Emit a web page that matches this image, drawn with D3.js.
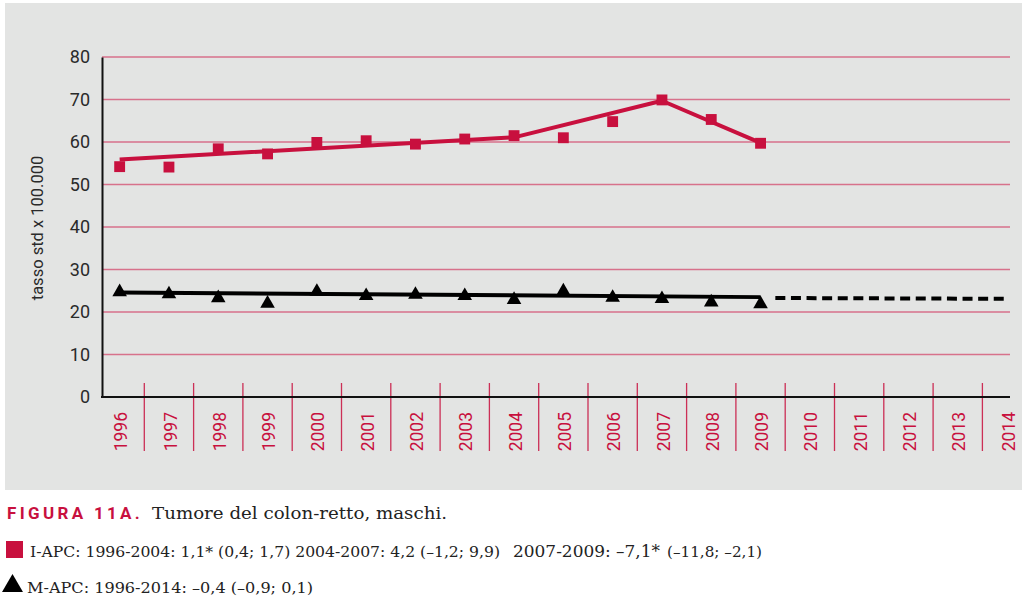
<!DOCTYPE html>
<html><head><meta charset="utf-8">
<script src="https://cdn.jsdelivr.net/npm/d3@7"></script>
<style>
html,body{margin:0;padding:0;background:#fff;}
svg{display:block;}
</style></head>
<body>
<svg id="chart" width="1024" height="598"></svg>
<script>
// ---- data ----
const years = [1996,1997,1998,1999,2000,2001,2002,2003,2004,2005,2006,2007,2008,2009,2010,2011,2012,2013,2014];
const obsYears = [1996,1997,1998,1999,2000,2001,2002,2003,2004,2005,2006,2007,2008,2009];
const incidence = [54.2,54.1,58.4,57.2,59.9,60.3,59.5,60.7,61.5,61.0,64.8,69.9,65.3,59.7];
const mortality = [24.7,24.2,23.3,22.0,24.8,23.8,24.1,23.8,22.9,24.9,23.4,23.1,22.3,21.9];
const trendIYears = [1996,2004,2007,2009];
const trendIValues = [55.9,61.1,69.7,59.8];
const trendMYears = [1996,2009];
const trendMValues = [24.6,23.5];
const projMYears = [2009.3,2014];
const projMValues = [23.3,23.1];
const yTicks = [0,10,20,30,40,50,60,70,80];
const yTitle = "tasso std x 100.000";
const captionLabel = "FIGURA 11A.";
const captionText = "Tumore del colon-retto, maschi.";
const legendI = ["I-APC: 1996-2004: 1,1* (0,4; 1,7)  2004-2007: 4,2 (–1,2; 9,9)", "2007-2009: –7,1*", "(–11,8; –2,1)"];
const legendM = "M-APC: 1996-2014: –0,4 (–0,9; 0,1)";

// ---- layout ----
const RED = "#c8103e", GRID = "#d7718b", PANEL = "#e3e4e3";
const plotLeft = 102, plotRight = 1010, plotTop = 57, plotBottom = 397;
const svg = d3.select("#chart");

svg.append("rect").attr("x",5).attr("y",3).attr("width",1017).attr("height",487).attr("fill",PANEL);

const x = d3.scaleBand().domain(years).range([95, 95 + 19*49.3]).padding(0);
const bw = x.bandwidth();
const cx = d => x(d) + bw/2;
const xLin = d3.scaleLinear().domain([1996,2014]).range([cx(1996), cx(2014)]);
const y = d3.scaleLinear().domain([0,80]).range([plotBottom, plotTop]);

// grid lines
svg.append("g").selectAll("line").data(yTicks.filter(t=>t>0)).join("line")
  .attr("x1",plotLeft).attr("x2",plotRight)
  .attr("y1",d=>y(d)).attr("y2",d=>y(d))
  .attr("stroke",GRID).attr("stroke-width",1.5);

// year separators
svg.append("g").selectAll("line").data(years.slice(1)).join("line")
  .attr("x1",d=>x(d)).attr("x2",d=>x(d))
  .attr("y1",y(0)-14).attr("y2",y(0)+54)
  .attr("stroke",RED).attr("stroke-width",1.3).attr("opacity",0.85);

// y axis
const yAxis = d3.axisLeft(y).tickValues(yTicks).tickSize(0).tickPadding(12);
const gy = svg.append("g").attr("transform",`translate(${plotLeft},0)`).call(yAxis);
gy.select(".domain").attr("stroke","#111").attr("stroke-width",2);
gy.selectAll("text").attr("font-family","Roboto").attr("font-size",18).attr("fill","#2a2a2a");

// x axis line
svg.append("line").attr("x1",plotLeft-1).attr("x2",plotRight)
  .attr("y1",y(0)).attr("y2",y(0)).attr("stroke","#111").attr("stroke-width",2);

// x labels
svg.append("g").selectAll("text").data(years).join("text")
  .attr("transform",d=>`translate(${cx(d)+1.5},${y(0)+15}) rotate(-90)`)
  .attr("text-anchor","end").attr("dy","0.35em")
  .attr("font-family","Roboto").attr("font-size",17.5).attr("fill",RED)
  .text(d=>d);

// y title
svg.append("text").attr("transform",`translate(37.5,228) rotate(-90)`)
  .attr("text-anchor","middle").attr("dy","0.35em")
  .attr("font-family","Roboto").attr("font-size",16.5).attr("fill","#2a2a2a")
  .text(yTitle);

// trend lines
const line = d3.line().x(d=>xLin(d[0])).y(d=>y(d[1]));
svg.append("path").datum(d3.zip(trendIYears,trendIValues)).attr("d",line)
  .attr("fill","none").attr("stroke",RED).attr("stroke-width",4).attr("stroke-linejoin","round");
svg.append("path").datum(d3.zip(trendMYears,trendMValues)).attr("d",line)
  .attr("fill","none").attr("stroke","#000").attr("stroke-width",4);
svg.append("path").datum(d3.zip(projMYears,projMValues)).attr("d",line)
  .attr("fill","none").attr("stroke","#000").attr("stroke-width",4).attr("stroke-dasharray","10,5.6");

// markers
const sq = d3.symbol().type(d3.symbolSquare).size(118);
svg.append("g").selectAll("path").data(d3.zip(obsYears,incidence)).join("path")
  .attr("d",sq).attr("transform",d=>`translate(${cx(d[0])},${y(d[1])})`).attr("fill",RED);
const tri = d3.symbol().type(d3.symbolTriangle).size(92);
svg.append("g").selectAll("path").data(d3.zip(obsYears,mortality)).join("path")
  .attr("d",tri).attr("transform",d=>`translate(${cx(d[0])},${y(d[1])})`).attr("fill","#000");

// caption
svg.append("text").attr("x",7).attr("y",519)
  .attr("font-family","Roboto").attr("font-weight","bold").attr("font-size",17)
  .attr("fill",RED).attr("letter-spacing",2.2)
  .attr("textLength",135).attr("lengthAdjust","spacing").text(captionLabel);
svg.append("text").attr("x",152).attr("y",519)
  .attr("font-family","DejaVu Serif").attr("font-size",17).attr("fill","#222")
  .attr("textLength",295).attr("lengthAdjust","spacingAndGlyphs").text(captionText);

// legend
svg.append("rect").attr("x",6).attr("y",541).attr("width",17).attr("height",17).attr("fill",RED);
svg.append("text").attr("x",30).attr("y",557)
  .attr("font-family","DejaVu Serif").attr("font-size",15).attr("fill","#222")
  .attr("textLength",470).attr("lengthAdjust","spacingAndGlyphs").text(legendI[0]);
svg.append("text").attr("x",513).attr("y",557)
  .attr("font-family","DejaVu Serif").attr("font-size",16.5).attr("fill","#222")
  .attr("textLength",147).attr("lengthAdjust","spacingAndGlyphs").text(legendI[1]);
svg.append("text").attr("x",667).attr("y",557)
  .attr("font-family","DejaVu Serif").attr("font-size",15.5).attr("fill","#222")
  .attr("textLength",95).attr("lengthAdjust","spacingAndGlyphs").text(legendI[2]);

svg.append("path").attr("d",d3.symbol().type(d3.symbolTriangle).size(190))
  .attr("transform","translate(12.5,586)").attr("fill","#000");
svg.append("text").attr("x",27).attr("y",593)
  .attr("font-family","DejaVu Serif").attr("font-size",15).attr("fill","#222")
  .attr("textLength",286).attr("lengthAdjust","spacingAndGlyphs").text(legendM);
</script>
</body></html>
